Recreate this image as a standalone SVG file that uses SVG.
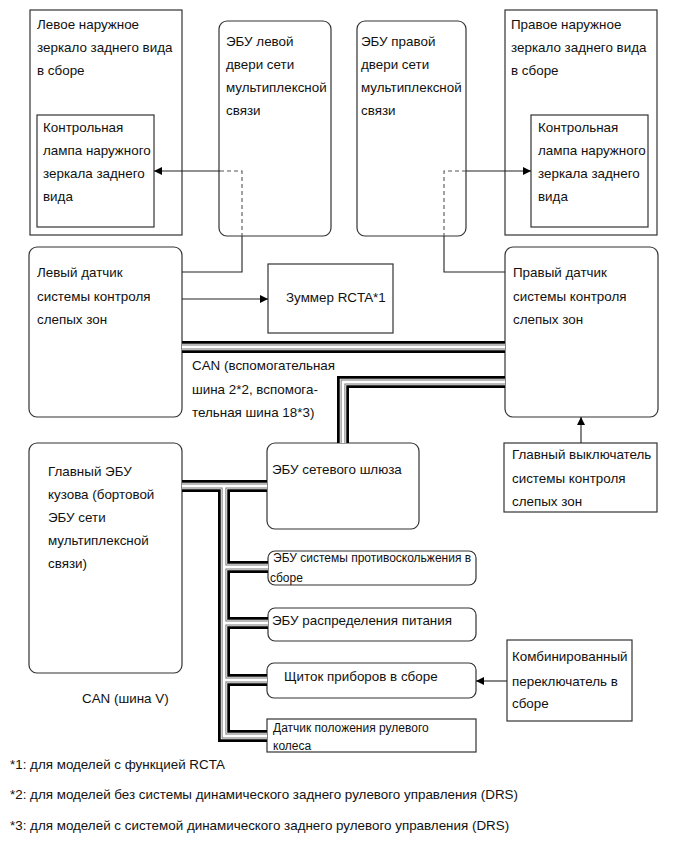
<svg xmlns="http://www.w3.org/2000/svg" width="690" height="854" viewBox="0 0 690 854">
<style>
text{font-family:"Liberation Sans",Arial,sans-serif;font-size:13.4px;fill:#111}
.sm{font-size:12px}
.fn{font-size:13.4px}
.box{fill:#fff;stroke:#333;stroke-width:1.2}
.ln{fill:none;stroke:#222;stroke-width:1.1}
.dash{fill:none;stroke:#555;stroke-width:1.1;stroke-dasharray:4 3}
.b1{fill:none;stroke:#000;stroke-width:12;stroke-linejoin:miter}
.b2{fill:none;stroke:#fff;stroke-width:6.5;stroke-linejoin:miter}
.b3{fill:none;stroke:#777;stroke-width:4.8;stroke-linejoin:miter}
.b4{fill:none;stroke:#fff;stroke-width:2.8;stroke-linejoin:miter}
</style>
<defs>
<marker id="ah" viewBox="0 0 10 10" refX="10" refY="5" markerWidth="10" markerHeight="8" markerUnits="userSpaceOnUse" orient="auto">
<path d="M0,0 L10,5 L0,10 z" fill="#000"/>
</marker>
<g id="bus">
<path d="M182,347 H505"/>
<path d="M505,382 H343 V443"/>
<path d="M182,486 H267"/>
<path d="M224,486 V736 H267"/>
<path d="M224,567 H268"/>
<path d="M224,623 H268"/>
<path d="M224,680 H267"/>
</g>
</defs>

<g id="left-mirror">
<rect class="box" x="30" y="10" width="152" height="225"/>
<text x="37" y="29">Левое наружное</text>
<text x="37" y="52">зеркало заднего вида</text>
<text x="37" y="75">в сборе</text>
</g>
<g id="left-lamp">
<rect class="box" x="37" y="115" width="117" height="112"/>
<text x="43" y="132">Контрольная</text>
<text x="43" y="155">лампа наружного</text>
<text x="43" y="178">зеркала заднего</text>
<text x="43" y="201">вида</text>
</g>
<g id="left-door-ecu">
<rect class="box" x="219" y="21" width="112" height="215" rx="8"/>
<text x="226" y="46">ЭБУ левой</text>
<text x="226" y="69">двери сети</text>
<text x="226" y="92">мультиплексной</text>
<text x="226" y="115">связи</text>
</g>
<g id="right-door-ecu">
<rect class="box" x="357" y="21" width="109" height="215" rx="8"/>
<text x="361" y="46">ЭБУ правой</text>
<text x="361" y="69">двери сети</text>
<text x="361" y="92">мультиплексной</text>
<text x="361" y="115">связи</text>
</g>
<g id="right-mirror">
<rect class="box" x="505" y="10" width="152" height="225"/>
<text x="511" y="29">Правое наружное</text>
<text x="511" y="52">зеркало заднего вида</text>
<text x="511" y="75">в сборе</text>
</g>
<g id="right-lamp">
<rect class="box" x="531" y="115" width="117" height="112"/>
<text x="538" y="132">Контрольная</text>
<text x="538" y="155">лампа наружного</text>
<text x="538" y="178">зеркала заднего</text>
<text x="538" y="201">вида</text>
</g>
<g id="left-sensor">
<rect class="box" x="29" y="247" width="153" height="170" rx="8"/>
<text x="37" y="277">Левый датчик</text>
<text x="37" y="301">системы контроля</text>
<text x="37" y="324">слепых зон</text>
</g>
<g id="buzzer">
<rect class="box" x="268" y="264" width="125" height="69"/>
<text x="286" y="302">Зуммер RCTA*1</text>
</g>
<g id="right-sensor">
<rect class="box" x="505" y="247" width="153" height="170" rx="8"/>
<text x="513" y="277">Правый датчик</text>
<text x="513" y="301">системы контроля</text>
<text x="513" y="324">слепых зон</text>
</g>
<g id="main-switch">
<rect class="box" x="504" y="443" width="153" height="69"/>
<text x="512" y="459">Главный выключатель</text>
<text x="512" y="483">системы контроля</text>
<text x="512" y="506">слепых зон</text>
</g>
<g id="main-body-ecu">
<rect class="box" x="29" y="443" width="153" height="230" rx="8"/>
<text x="48" y="476">Главный ЭБУ</text>
<text x="48" y="499">кузова (бортовой</text>
<text x="48" y="522">ЭБУ сети</text>
<text x="48" y="545">мультиплексной</text>
<text x="48" y="568">связи)</text>
</g>
<g id="gateway-ecu">
<rect class="box" x="267" y="443" width="152" height="86" rx="8"/>
<text x="272" y="474">ЭБУ сетевого шлюза</text>
</g>
<g id="skid-ecu">
<rect class="box" x="268" y="551" width="208" height="34" rx="7"/>
<text class="sm" x="273" y="562">ЭБУ системы противоскольжения в</text>
<text class="sm" x="270" y="582">сборе</text>
</g>
<g id="power-ecu">
<rect class="box" x="268" y="608" width="208" height="33" rx="7"/>
<text x="272" y="625">ЭБУ распределения питания</text>
</g>
<g id="cluster">
<rect class="box" x="267" y="663" width="209" height="35" rx="7"/>
<text x="284" y="681">Щиток приборов в сборе</text>
</g>
<g id="steering-sensor">
<rect class="box" x="267" y="719" width="209" height="33"/>
<text class="sm" x="273" y="732">Датчик положения рулевого</text>
<text class="sm" x="273" y="750">колеса</text>
</g>
<g id="combo-switch">
<rect class="box" x="507" y="640" width="125" height="81"/>
<text x="512" y="661">Комбинированный</text>
<text x="512" y="686">переключатель в</text>
<text x="512" y="708">сборе</text>
</g>

<g id="connectors">
<use href="#bus" class="b1"/>
<use href="#bus" class="b2"/>
<use href="#bus" class="b3"/>
<use href="#bus" class="b4"/>
<path class="ln" d="M220,171 H154" marker-end="url(#ah)"/>
<path class="dash" d="M220,171 H242 V236"/>
<path class="ln" d="M242,236 V272 H182"/>
<path class="ln" d="M466,171 H531" marker-end="url(#ah)"/>
<path class="dash" d="M466,171 H444 V236"/>
<path class="ln" d="M444,236 V272 H505"/>
<path class="ln" d="M182,299 H268" marker-end="url(#ah)"/>
<path class="ln" d="M581,443 V417" marker-end="url(#ah)"/>
<path class="ln" d="M507,681 H476" marker-end="url(#ah)"/>
</g>

<g id="labels">
<text x="192" y="370">CAN (вспомогательная</text>
<text x="192" y="394">шина 2*2, вспомога-</text>
<text x="192" y="417">тельная шина 18*3)</text>
<text x="82" y="703">CAN (шина V)</text>
<text class="fn" x="10" y="769">*1: для моделей с функцией RCTA</text>
<text class="fn" x="10" y="799">*2: для моделей без системы динамического заднего рулевого управления (DRS)</text>
<text class="fn" x="10" y="830">*3: для моделей с системой динамического заднего рулевого управления (DRS)</text>
</g>
</svg>
